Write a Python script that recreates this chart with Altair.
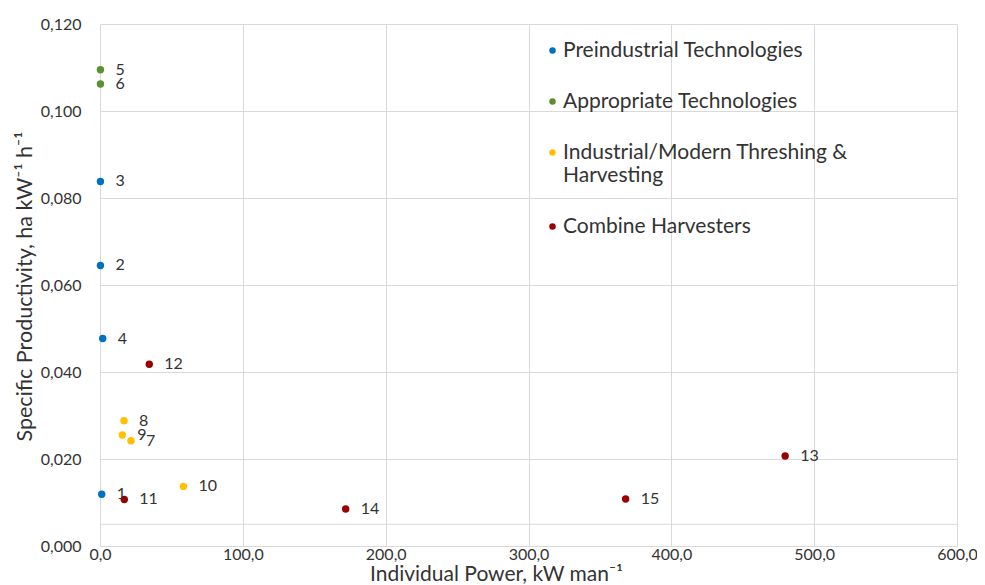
import altair as alt
import pandas as pd

# ---- data ----
point_ids = ["1", "2", "3", "4", "5", "6", "7", "8", "9", "10", "11", "12", "13", "14", "15"]
power = [1.2, 0.3, 0.3, 1.9, 0.3, 0.3, 21.7, 16.8, 15.6, 58.4, 17.0, 34.5, 479.7, 172.0, 368.0]
productivity = [0.0119, 0.0645, 0.0838, 0.0477, 0.1095, 0.1062, 0.0242, 0.0288, 0.0255,
                0.0137, 0.0107, 0.0418, 0.0207, 0.0085, 0.0108]
categories = ["Preindustrial Technologies", "Appropriate Technologies",
              "Industrial/Modern Threshing & Harvesting", "Combine Harvesters"]
group_index = [0, 0, 0, 0, 1, 1, 2, 2, 2, 2, 3, 3, 3, 3, 3]
colors = ["#0070C0", "#5A8F32", "#FFC000", "#9B0000"]
x_ticks = [0, 100, 200, 300, 400, 500, 600]
y_ticks = [0.0, 0.02, 0.04, 0.06, 0.08, 0.10, 0.12]
extra_grid = [0.005]

df = pd.DataFrame({
    "id": point_ids,
    "power": power,
    "prod": productivity,
    "group": [categories[i] for i in group_index],
})
grid_df = pd.DataFrame({"y": extra_grid})

FONT = "Lato"
TXT = "#333333"
GRID = "#d9d9d9"

xscale = alt.Scale(domain=[0, 600], nice=False, zero=True)
yscale = alt.Scale(domain=[0, 0.12], nice=False, zero=True)

x_enc = alt.X("power:Q", scale=xscale,
              axis=alt.Axis(values=x_ticks, grid=True, domain=False, ticks=False,
                            labelExpr="replace(format(datum.value, '.1f'), '.', ',')",
                            labelFont=FONT, labelFontSize=16, labelColor=TXT,
                            labelPadding=0, labelBaseline="top", labelFlush=False,
                            labelOverlap=False,
                            title="Individual Power, kW man\u207b\u00b9",
                            titleFont=FONT, titleFontSize=21, titleFontWeight="normal",
                            titleColor=TXT, titleX=396, titleY=34,
                            titleAnchor="middle", titleAlign="center",
                            titleBaseline="alphabetic"))
y_enc = alt.Y("prod:Q", scale=yscale,
              axis=alt.Axis(values=y_ticks, grid=True, domain=False, ticks=False,
                            labelExpr="replace(format(datum.value, '.3f'), '.', ',')",
                            labelFont=FONT, labelFontSize=16, labelColor=TXT,
                            labelPadding=19, labelFlush=False, labelOverlap=False,
                            title="Specific Productivity, ha kW\u207b\u00b9 h\u207b\u00b9",
                            titleFont=FONT, titleFontSize=21.5, titleFontWeight="normal",
                            titleColor=TXT, titleAngle=-90, titleX=-75, titleY=262,
                            titleAlign="center", titleBaseline="middle"))

rule = alt.Chart(grid_df).mark_rule(color=GRID, strokeWidth=1).encode(
    y=alt.Y("y:Q", scale=yscale)
)

points = alt.Chart(df).mark_circle(size=55, opacity=1).encode(
    x=x_enc,
    y=y_enc,
    color=alt.Color("group:N",
                    scale=alt.Scale(domain=categories, range=colors),
                    legend=alt.Legend(
                        orient="none", legendX=442, legendY=16, title=None,
                        padding=0, rowPadding=29, symbolType="circle", symbolSize=42,
                        symbolStrokeWidth=0, labelFont=FONT, labelFontSize=21,
                        labelColor=TXT, labelOffset=0, labelLimit=500,
                        labelExpr="datum.label == 'Industrial/Modern Threshing & Harvesting' ? ['Industrial/Modern Threshing &', 'Harvesting'] : datum.label")),
)

labels = alt.Chart(df).mark_text(align="left", baseline="middle", dx=15,
                                 font=FONT, fontSize=16, color=TXT).encode(
    x=alt.X("power:Q", scale=xscale),
    y=alt.Y("prod:Q", scale=yscale),
    text="id:N",
)

chart = alt.layer(rule, points, labels).properties(
    width=857, height=522,
    autosize=alt.AutoSizeParams(type="none"),
    padding={"left": 92, "top": 16, "right": 20, "bottom": 39},
    background="white",
).configure_view(stroke=None).configure_axis(gridColor=GRID, gridWidth=1)

chart.save("out.html", embed_options={"renderer": "svg", "actions": False})
